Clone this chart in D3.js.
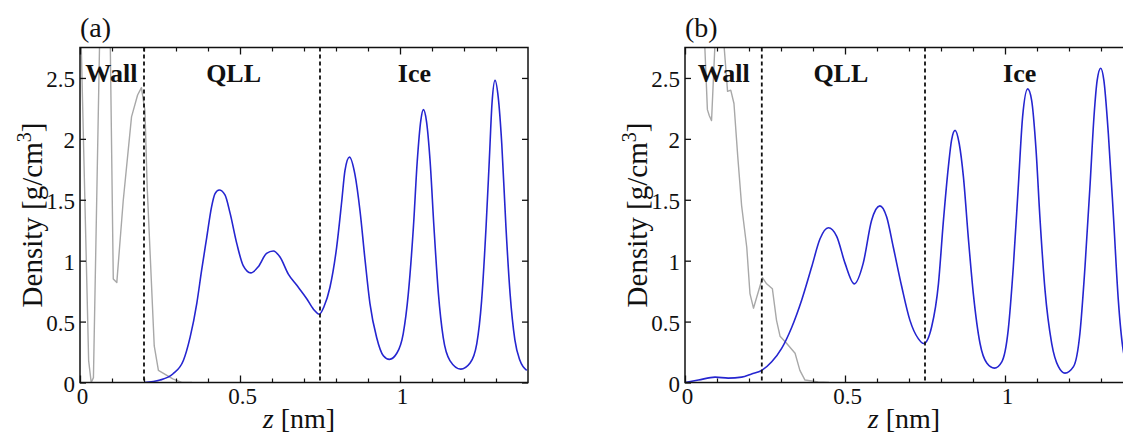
<!DOCTYPE html>
<html>
<head>
<meta charset="utf-8">
<script src="https://cdn.jsdelivr.net/npm/d3@7"></script>
<style>
  html, body { margin: 0; padding: 0; background: #fff; }
  svg { display: block; }
  text { font-family: "Liberation Serif", "Times New Roman", serif; fill: #111; }
</style>
</head>
<body>
<svg id="chart" width="1123" height="434"></svg>
<script>
// ---------------- DATA ----------------
const panelLabels = ["(a)", "(b)"];
const regionNames = ["Wall", "QLL", "Ice"];
const regionCentersA = [0.098, 0.480, 1.045];
const regionCentersB = [0.121, 0.487, 1.046];
const dividersA = [0.20, 0.75];
const dividersB = [0.24, 0.75];

const xMajorTicks = [0, 0.5, 1];
const xMinorTicks = [0.1, 0.2, 0.3, 0.4, 0.6, 0.7, 0.8, 0.9, 1.1, 1.2, 1.3];
const yMajorTicks = [0, 0.5, 1, 1.5, 2, 2.5];

// Panel (a) water density (blue)
const waterZA = [0.200,0.250,0.290,0.323,0.344,0.365,0.380,0.396,0.411,0.422,0.435,0.453,0.469,0.490,0.510,0.534,0.557,0.583,0.604,0.625,0.651,0.677,0.708,0.730,0.748,0.762,0.781,0.802,0.818,0.828,0.842,0.859,0.875,0.891,0.906,0.927,0.948,0.967,0.990,1.010,1.026,1.042,1.054,1.065,1.073,1.083,1.094,1.106,1.120,1.135,1.156,1.190,1.219,1.240,1.255,1.269,1.279,1.2875,1.297,1.307,1.318,1.331,1.344,1.359,1.375,1.396];
const waterDA = [0.000,0.020,0.070,0.180,0.370,0.650,0.920,1.190,1.440,1.550,1.580,1.540,1.390,1.140,0.960,0.900,0.950,1.060,1.080,1.030,0.890,0.800,0.690,0.600,0.560,0.620,0.780,1.110,1.490,1.740,1.850,1.710,1.410,1.000,0.650,0.370,0.220,0.190,0.240,0.400,0.730,1.280,1.820,2.150,2.240,2.140,1.820,1.280,0.730,0.370,0.180,0.110,0.160,0.320,0.670,1.280,1.820,2.290,2.480,2.340,1.960,1.280,0.730,0.350,0.180,0.100];

// Panel (a) wall density (gray)
const wallZA = [0.000,0.027,0.035,0.042,0.062,0.078,0.094,0.104,0.115,0.135,0.161,0.180,0.192,0.203,0.210,0.232,0.245,0.290,0.318,0.350];
const wallDA = [3.200,0.180,0.000,0.040,2.900,3.600,2.900,0.850,0.820,1.490,2.180,2.360,2.420,2.230,1.600,0.300,0.100,0.030,0.000,0.000];

// Panel (b) water density (blue)
const waterZB = [0.000,0.042,0.094,0.135,0.177,0.208,0.240,0.271,0.302,0.333,0.365,0.396,0.422,0.448,0.474,0.500,0.529,0.557,0.583,0.609,0.630,0.651,0.677,0.703,0.729,0.746,0.771,0.792,0.807,0.823,0.833,0.844,0.857,0.870,0.885,0.901,0.922,0.943,0.967,0.990,1.010,1.026,1.042,1.055,1.071,1.083,1.097,1.109,1.125,1.146,1.167,1.1875,1.214,1.234,1.250,1.266,1.278,1.288,1.299,1.309,1.323,1.339,1.354,1.369,1.385,1.400];
const waterDB = [0.000,0.020,0.044,0.036,0.044,0.070,0.100,0.170,0.280,0.450,0.680,0.950,1.180,1.270,1.200,0.980,0.810,0.980,1.330,1.450,1.360,1.110,0.790,0.510,0.360,0.320,0.460,0.810,1.310,1.770,1.990,2.070,1.960,1.690,1.200,0.730,0.320,0.160,0.118,0.170,0.430,0.950,1.630,2.180,2.410,2.320,1.910,1.360,0.760,0.320,0.130,0.077,0.130,0.400,0.950,1.630,2.180,2.480,2.580,2.480,2.040,1.360,0.680,0.270,0.130,0.090];

// Panel (b) wall density (gray)
const wallZB = [0.000,0.055,0.070,0.076,0.083,0.094,0.108,0.121,0.133,0.143,0.153,0.165,0.177,0.193,0.203,0.214,0.242,0.255,0.273,0.286,0.297,0.318,0.344,0.359,0.375,0.416,0.450];
const wallDB = [3.800,3.200,2.240,2.190,2.150,2.800,3.300,2.800,2.390,2.400,2.290,1.850,1.450,1.110,0.730,0.610,0.860,0.810,0.770,0.510,0.380,0.320,0.240,0.100,0.020,0.005,0.000];

// ---------------- DRAW ----------------
const svg = d3.select("#chart");
const xDomain = [0, 1.4];
const yDomain = [0, 2.75];
const plotTop = 47.5, plotBottom = 382.5;

const panels = [
  { id: "a", label: panelLabels[0], left: 80, right: 528,
    waterZ: waterZA, waterD: waterDA, wallZ: wallZA, wallD: wallDA,
    dividers: dividersA, regionCenters: regionCentersA },
  { id: "b", label: panelLabels[1], left: 685, right: 1133,
    waterZ: waterZB, waterD: waterDB, wallZ: wallZB, wallD: wallDB,
    dividers: dividersB, regionCenters: regionCentersB }
];

const defs = svg.append("defs");

panels.forEach(p => {
  const x = d3.scaleLinear().domain(xDomain).range([p.left, p.right]);
  const y = d3.scaleLinear().domain(yDomain).range([plotBottom, plotTop]);
  const g = svg.append("g");

  defs.append("clipPath").attr("id", "clip-" + p.id)
    .append("rect").attr("x", p.left).attr("y", plotTop)
    .attr("width", p.right - p.left).attr("height", plotBottom - plotTop);

  const plot = g.append("g").attr("clip-path", `url(#clip-${p.id})`);

  // wall (gray) curve
  const wallData = p.wallZ.map((z, i) => [z, p.wallD[i]]);
  plot.append("path")
    .datum(wallData)
    .attr("fill", "none")
    .attr("stroke", "#a8a8a8")
    .attr("stroke-width", 1.4)
    .attr("stroke-linejoin", "round")
    .attr("d", d3.line().x(d => x(d[0])).y(d => y(d[1])));

  // water (blue) curve
  const waterData = p.waterZ.map((z, i) => [z, p.waterD[i]]);
  plot.append("path")
    .datum(waterData)
    .attr("fill", "none")
    .attr("stroke", "#2525d0")
    .attr("stroke-width", 1.6)
    .attr("stroke-linejoin", "round")
    .attr("d", d3.line().curve(d3.curveMonotoneX).x(d => x(d[0])).y(d => y(d[1])));

  // dashed dividers
  g.selectAll(".divider-" + p.id)
    .data(p.dividers)
    .join("line")
    .attr("x1", d => x(d)).attr("x2", d => x(d))
    .attr("y1", plotTop).attr("y2", plotBottom)
    .attr("stroke", "#111")
    .attr("stroke-width", 1.8)
    .attr("stroke-dasharray", "4,3");

  // frame
  g.append("rect")
    .attr("x", p.left).attr("y", plotTop)
    .attr("width", p.right - p.left).attr("height", plotBottom - plotTop)
    .attr("fill", "none").attr("stroke", "#111").attr("stroke-width", 1.5);

  const fmt = d3.format("~g");

  // bottom axis: major with labels
  const xb = g.append("g").attr("transform", `translate(0,${plotBottom})`)
    .call(d3.axisBottom(x).tickValues(xMajorTicks).tickSize(-7).tickPadding(5).tickFormat(fmt));
  xb.select(".domain").remove();
  xb.selectAll("text").attr("font-size", 23).attr("dx", 2)
    .style("font-family", '"Liberation Serif", serif');
  xb.selectAll("line").attr("stroke", "#111").attr("stroke-width", 1.3);
  // bottom minor
  const xbm = g.append("g").attr("transform", `translate(0,${plotBottom})`)
    .call(d3.axisBottom(x).tickValues(xMinorTicks).tickSize(-4).tickFormat(""));
  xbm.select(".domain").remove();
  xbm.selectAll("line").attr("stroke", "#111").attr("stroke-width", 1.2);
  // top major + minor
  const xt = g.append("g").attr("transform", `translate(0,${plotTop})`)
    .call(d3.axisTop(x).tickValues(xMajorTicks).tickSize(-7).tickFormat(""));
  xt.select(".domain").remove();
  xt.selectAll("line").attr("stroke", "#111").attr("stroke-width", 1.3);
  const xtm = g.append("g").attr("transform", `translate(0,${plotTop})`)
    .call(d3.axisTop(x).tickValues(xMinorTicks).tickSize(-4).tickFormat(""));
  xtm.select(".domain").remove();
  xtm.selectAll("line").attr("stroke", "#111").attr("stroke-width", 1.2);

  // left axis
  const yl = g.append("g").attr("transform", `translate(${p.left},0)`)
    .call(d3.axisLeft(y).tickValues(yMajorTicks).tickSize(-6).tickPadding(5).tickFormat(fmt));
  yl.select(".domain").remove();
  yl.selectAll("text").attr("font-size", 23).attr("dy", "0.38em")
    .style("font-family", '"Liberation Serif", serif');
  yl.selectAll("line").attr("stroke", "#111").attr("stroke-width", 1.3);
  // right axis
  const yr = g.append("g").attr("transform", `translate(${p.right},0)`)
    .call(d3.axisRight(y).tickValues(yMajorTicks).tickSize(-6).tickFormat(""));
  yr.select(".domain").remove();
  yr.selectAll("line").attr("stroke", "#111").attr("stroke-width", 1.3);

  // region labels
  g.selectAll(".region-" + p.id)
    .data(regionNames)
    .join("text")
    .attr("x", (d, i) => x(p.regionCenters[i]))
    .attr("y", 81.5)
    .attr("text-anchor", "middle")
    .attr("font-size", 26)
    .attr("font-weight", 700)
    .style("font-family", '"Liberation Serif", "Times New Roman", serif')
    .text(d => d);

  // panel label
  g.append("text")
    .attr("x", p.left).attr("y", 37)
    .attr("font-size", 28)
    .text(p.label);

  // x axis title
  const xt2 = g.append("text")
    .attr("x", p.left + 219).attr("y", 428)
    .attr("text-anchor", "middle")
    .attr("font-size", 28);
  xt2.append("tspan").attr("font-style", "italic").text("z");
  xt2.append("tspan").text(" [nm]");

  // y axis title
  const yt = g.append("text")
    .attr("transform", `translate(${p.left - 38},${(plotTop + plotBottom) / 2}) rotate(-90)`)
    .attr("text-anchor", "middle")
    .attr("font-size", 29);
  yt.append("tspan").text("Density [g/cm");
  yt.append("tspan").attr("font-size", 20).attr("dy", -11).text("3");
  yt.append("tspan").attr("dy", 11).text("]");
});
</script>
</body>
</html>
